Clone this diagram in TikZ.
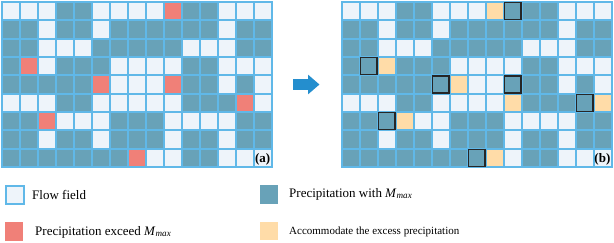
\documentclass[tikz,border=0pt]{standalone}
\usepackage{fontspec}
\setmainfont{Liberation Serif}
\usepackage{tikz}
\usetikzlibrary{arrows.meta,positioning}

\definecolor{cW}{RGB}{238,244,250}
\definecolor{cD}{RGB}{104,162,184}
\definecolor{cR}{RGB}{240,128,120}
\definecolor{cO}{RGB}{255,220,168}
\colorlet{cM}{cD}
\definecolor{gridblue}{RGB}{96,184,232}
\definecolor{arrowblue}{RGB}{36,142,206}

\newcommand{\Mmax}{\textit{M}\textsubscript{\textit{max}}}

\begin{document}
\begin{tikzpicture}[x=1pt,y=-1pt,
    cell/.style={draw=gridblue, line width=1.8pt},
    maxcell/.style={draw=black!85, line width=1.5pt},
    legbox/.style={minimum width=18pt, minimum height=18.3pt, inner sep=0pt, anchor=north west},
    legtext/.style={font=\fontsize{13}{15}\selectfont, anchor=west, inner sep=0pt}]
    \useasboundingbox (0,0) rectangle (614,242);
    % left grid (a)
    \foreach \row [count=\r from 0] in {
        {W,W,W,D,D,W,W,W,W,R,D,D,W,W,W},
        {D,D,W,D,D,W,D,D,D,D,D,D,W,D,D},
        {D,D,W,W,W,D,D,D,D,D,W,W,W,D,D},
        {D,R,W,D,D,D,W,W,W,W,D,D,W,W,W},
        {D,D,D,D,D,R,W,W,W,R,D,D,W,D,W},
        {W,W,W,D,D,W,W,W,W,W,D,D,D,R,W},
        {D,D,R,W,W,W,D,D,D,W,W,W,W,D,D},
        {D,D,W,D,D,W,D,D,D,W,D,D,W,D,D},
        {D,D,D,D,D,D,D,R,W,W,D,D,W,W,W}} {
        \foreach \c [count=\k from 0] in \row {
            \draw[cell, fill=c\c] ({2+18*\k},{2+18.33*\r}) rectangle ++(18,18.33);
        }
    }
    % right grid (b)
    \foreach \row [count=\r from 0] in {
        {W,W,W,D,D,W,W,W,O,M,D,D,W,W,W},
        {D,D,W,D,D,W,D,D,D,D,D,D,W,D,D},
        {D,D,W,W,W,D,D,D,D,D,W,W,W,D,D},
        {D,M,O,D,D,D,W,W,W,W,D,D,W,W,W},
        {D,D,D,D,D,M,O,W,W,M,D,D,W,D,W},
        {W,W,W,D,D,W,W,W,W,O,D,D,D,M,O},
        {D,D,M,O,W,W,D,D,D,W,W,W,W,D,D},
        {D,D,W,D,D,W,D,D,D,W,D,D,W,D,D},
        {D,D,D,D,D,D,D,M,O,W,D,D,W,W,W}} {
        \foreach \c [count=\k from 0] in \row {
            \draw[cell, fill=c\c] ({341.7+18*\k},{2+18.33*\r}) rectangle ++(18,18.33);
        }
    }
    \foreach \k/\r in {9/0,1/3,5/4,9/4,13/5,2/6,7/8} {
        \draw[maxcell] ({341.7+18*\k+0.7},{2+18.33*\r+0.7}) rectangle ++(16.6,16.93);
    }
    \node[font=\fontsize{13}{15}\selectfont\bfseries, inner sep=0pt] (labela) at (262.7,159.5) {(a)};
    \node[font=\fontsize{13}{15}\selectfont\bfseries, inner sep=0pt] (labelb) at (602.4,159.5) {(b)};
    % arrow
    \coordinate (arrowtail) at (293,84.5);
    \coordinate (arrowtip) at (319.5,84.5);
    \draw[arrowblue, line width=10.5pt, -{Triangle[width=19pt, length=11.5pt]}] (arrowtail) -- (arrowtip);
    % legend
    \node[legbox, draw=gridblue, line width=1.6pt, fill=cW] (flowbox) at (5,185) {};
    \node[legbox, fill=cR] (exceedbox) at (5,222) {};
    \node[legbox, fill=cD] (withbox) at (260,185) {};
    \node[legbox, fill=cO] (accbox) at (260,221.7) {};
    \node[legtext] (flowtext) at (32,194.5) {Flow field};
    \node[legtext] (exceedtext) at (35,232) {Precipitation exceed \Mmax};
    \node[legtext] (withtext) at (289,194) {Precipitation with \Mmax};
    \node[legtext, font=\fontsize{11}{13}\selectfont] (acctext) at (289,231.5) {Accommodate the excess precipitation};
\end{tikzpicture}
\end{document}
